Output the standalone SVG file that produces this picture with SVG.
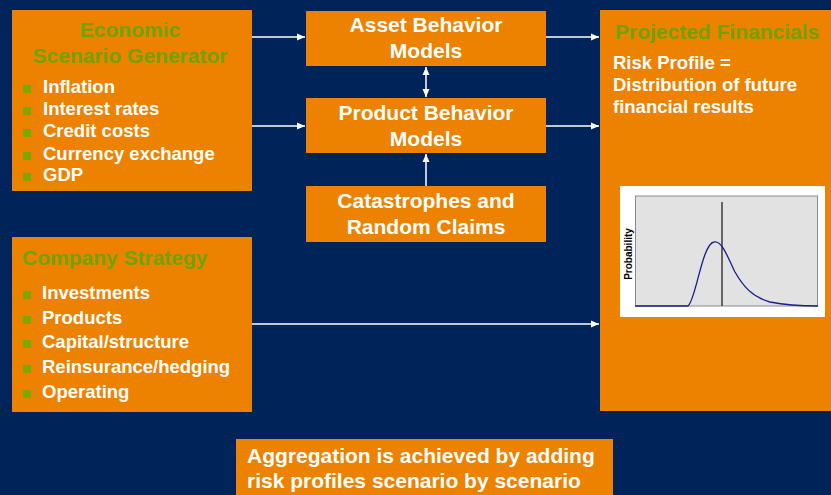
<svg xmlns="http://www.w3.org/2000/svg" width="831" height="495" viewBox="0 0 831 495">
  <defs>
    <marker id="ah" markerWidth="8" markerHeight="8" refX="8" refY="4" orient="auto-start-reverse" markerUnits="userSpaceOnUse">
      <path d="M0,0.5 L8,4 L0,7.5 Z" fill="#ffffff"/>
    </marker>
    <style>
      .box { fill: #EC8200; }
      .title { font-family: "Liberation Sans", Arial, sans-serif; font-weight: bold; font-size: 21px; fill: #6FA400; }
      .wt { font-family: "Liberation Sans", Arial, sans-serif; font-weight: bold; font-size: 21px; fill: #ffffff; }
      .item { font-family: "Liberation Sans", Arial, sans-serif; font-weight: bold; font-size: 18.5px; fill: #ffffff; }
      .bul { fill: #7CA800; }
      .conn { stroke: #ffffff; stroke-width: 1.5; fill: none; }
    </style>
  </defs>

  <rect x="0" y="0" width="831" height="495" fill="#00245A"/>

  <!-- Economic Scenario Generator -->
  <g id="esg">
    <rect class="box" x="12" y="10" width="240" height="181"/>
    <text class="title" x="130" y="37" text-anchor="middle">Economic</text>
    <text class="title" x="130" y="63" text-anchor="middle">Scenario Generator</text>
    <rect class="bul" x="23" y="85" width="8" height="8"/>
    <text class="item" x="43" y="93">Inflation</text>
    <rect class="bul" x="23" y="107" width="8" height="8"/>
    <text class="item" x="43" y="115">Interest rates</text>
    <rect class="bul" x="23" y="129" width="8" height="8"/>
    <text class="item" x="43" y="137">Credit costs</text>
    <rect class="bul" x="23" y="152" width="8" height="8"/>
    <text class="item" x="43" y="160">Currency exchange</text>
    <rect class="bul" x="23" y="173" width="8" height="8"/>
    <text class="item" x="43" y="181">GDP</text>
  </g>

  <!-- Company Strategy -->
  <g id="strategy">
    <rect class="box" x="12" y="237" width="240" height="175"/>
    <text class="title" x="22" y="265">Company Strategy</text>
    <rect class="bul" x="23" y="291" width="8" height="8"/>
    <text class="item" x="42" y="299">Investments</text>
    <rect class="bul" x="23" y="316" width="8" height="8"/>
    <text class="item" x="42" y="324">Products</text>
    <rect class="bul" x="23" y="340" width="8" height="8"/>
    <text class="item" x="42" y="348">Capital/structure</text>
    <rect class="bul" x="23" y="365" width="8" height="8"/>
    <text class="item" x="42" y="373">Reinsurance/hedging</text>
    <rect class="bul" x="23" y="390" width="8" height="8"/>
    <text class="item" x="42" y="398">Operating</text>
  </g>

  <!-- Asset Behavior Models -->
  <g id="asset">
    <rect class="box" x="306" y="11" width="240" height="55"/>
    <text class="wt" x="426" y="32" text-anchor="middle">Asset Behavior</text>
    <text class="wt" x="426" y="58" text-anchor="middle">Models</text>
  </g>

  <!-- Product Behavior Models -->
  <g id="product">
    <rect class="box" x="306" y="98" width="240" height="55"/>
    <text class="wt" x="426" y="120" text-anchor="middle">Product Behavior</text>
    <text class="wt" x="426" y="146" text-anchor="middle">Models</text>
  </g>

  <!-- Catastrophes and Random Claims -->
  <g id="catastrophes">
    <rect class="box" x="306" y="186" width="240" height="56"/>
    <text class="wt" x="426" y="208" text-anchor="middle">Catastrophes and</text>
    <text class="wt" x="426" y="234" text-anchor="middle">Random Claims</text>
  </g>

  <!-- Projected Financials -->
  <g id="projected">
    <rect class="box" x="600" y="10" width="240" height="401"/>
    <text class="title" x="615" y="39">Projected Financials</text>
    <text class="item" x="613" y="69">Risk Profile =</text>
    <text class="item" x="613" y="91">Distribution of future</text>
    <text class="item" x="613" y="113">financial results</text>
    <!-- probability distribution chart -->
    <rect x="620" y="186" width="205" height="131" fill="#ffffff"/>
    <rect x="635.5" y="196" width="182" height="110" fill="#E2E2E2" stroke="#8A8A8A" stroke-width="1"/>
    <line x1="722" y1="202" x2="722" y2="306" stroke="#3A3A3A" stroke-width="1.5"/>
    <path d="M635,306 L688,306 C696,300 702,244 714,242 C722,240 728,258 735,272 C743,286 752,297 770,302 C785,305 800,306 818,306" fill="none" stroke="#1C1C8A" stroke-width="1.3"/>
    <text x="632" y="254" transform="rotate(-90 632 254)" text-anchor="middle" font-family="Liberation Sans, Arial, sans-serif" font-weight="bold" font-size="10" fill="#000000">Probability</text>
  </g>

  <!-- Aggregation note -->
  <g id="aggregation">
    <rect class="box" x="236" y="439" width="377" height="60"/>
    <text class="wt" x="247" y="463">Aggregation is achieved by adding</text>
    <text class="wt" x="247" y="488">risk profiles scenario by scenario</text>
  </g>

  <!-- connectors -->
  <g id="connectors">
    <line class="conn" x1="252" y1="37" x2="305" y2="37" marker-end="url(#ah)"/>
    <line class="conn" x1="252" y1="126" x2="305" y2="126" marker-end="url(#ah)"/>
    <line class="conn" x1="546" y1="37" x2="599" y2="37" marker-end="url(#ah)"/>
    <line class="conn" x1="546" y1="126" x2="599" y2="126" marker-end="url(#ah)"/>
    <line class="conn" x1="252" y1="324" x2="599" y2="324" marker-end="url(#ah)"/>
    <line class="conn" x1="426" y1="67" x2="426" y2="97" marker-start="url(#ah)" marker-end="url(#ah)"/>
    <line class="conn" x1="426" y1="186" x2="426" y2="154" marker-end="url(#ah)"/>
  </g>
</svg>
